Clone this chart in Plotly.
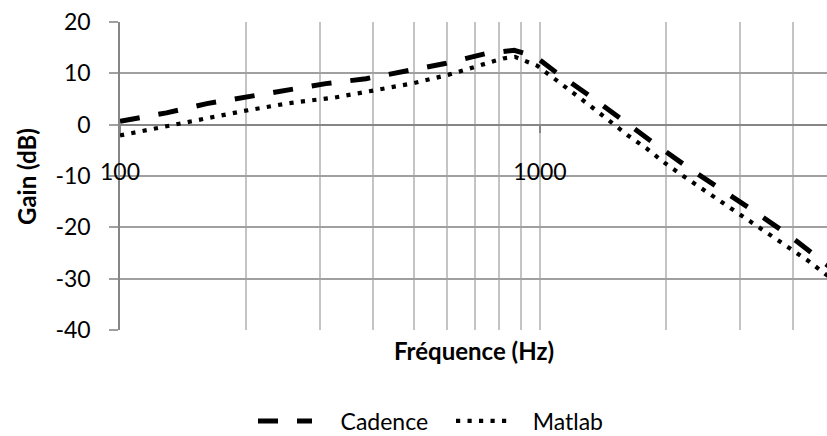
import math
import plotly.graph_objects as go

# Frequency response: measured (Cadence) vs. computed (Matlab)
freq_cadence = [100, 129, 161, 200, 250, 309, 385, 480, 594, 740, 800, 868, 974,
                1104, 1322, 1585, 1888, 2276, 2728, 3268, 3938, 4642, 5000]
gain_cadence = [0.65, 2.3, 4.1, 5.45, 6.8, 8.0, 8.95, 10.4, 11.9, 13.8, 14.2, 14.5, 13.3,
                9.9, 5.45, 0.6, -3.9, -8.6, -12.8, -17.1, -21.7, -26.3, -28.3]

freq_matlab = [100, 128, 164, 197, 253, 325, 392, 501, 604, 681, 769, 817, 872, 926,
               984, 1033, 1086, 1199, 1330, 1468, 1620, 1798, 1985, 2202, 2443,
               3178, 3530, 3917, 4347, 4797, 5000]
gain_matlab = [-2.1, -0.33, 1.4, 2.66, 4.2, 5.3, 6.5, 8.1, 9.7, 11.0, 12.3, 12.9, 13.2, 12.4,
               11.5, 10.2, 8.8, 6.2, 3.4, 0.6, -2.1, -4.7, -7.5, -10.1, -12.6,
               -18.8, -21.3, -23.9, -26.5, -29.2, -30.1]

grid_freqs = [100, 200, 300, 400, 500, 600, 700, 800, 900,
              1000, 2000, 3000, 4000, 5000]
label_freqs = [100, 1000]
label_text = ["100", "1000"]
y_ticks = [20, 10, 0, -10, -20, -30, -40]
y_tick_text = ["20", "10", "0", "-10", "-20", "-30", "-40"]

FONT = "Lato"
TICK_SIZE = 23
TITLE_SIZE = 24
AXIS_GRAY = "#868686"
HGRID = "#a0a0a0"
VGRID = "#c4c4c4"
NBSP = "\u00a0"

x_range = [2, math.log10(4823)]
y_range = [-40, 20]

fig = go.Figure()
fig.add_trace(go.Scatter(
    x=freq_cadence, y=gain_cadence, name=NBSP * 4 + "Cadence", mode="lines",
    line=dict(color="black", width=5, dash="20px,19px"),
))
fig.add_trace(go.Scatter(
    x=freq_matlab, y=gain_matlab, name=NBSP * 3 + "Matlab", mode="lines",
    line=dict(color="black", width=4.2, dash="4.2px,7.3px"),
))
# carrier for the labelled axis drawn through y = 0
fig.add_trace(go.Scatter(x=[], y=[], xaxis="x2", showlegend=False, hoverinfo="skip"))

zero_pos = (0 - y_range[0]) / (y_range[1] - y_range[0])

fig.update_layout(
    width=827, height=436,
    margin=dict(l=120, r=0, t=22, b=106, autoexpand=False),
    paper_bgcolor="white", plot_bgcolor="white",
    font=dict(family=FONT, size=TICK_SIZE, color="black"),
    showlegend=True,
    legend=dict(orientation="h", xref="container", yref="container",
                x=253 / 827, xanchor="left", y=15 / 436, yanchor="middle",
                font=dict(family=FONT, size=TICK_SIZE, color="black"), itemwidth=54,
                entrywidth=129, entrywidthmode="pixels",
                bgcolor="rgba(0,0,0,0)"),
    xaxis=dict(
        type="log", range=x_range, tickvals=grid_freqs, showticklabels=False,
        ticks="", showgrid=True, gridcolor=VGRID, gridwidth=1.5,
        showline=False, zeroline=False, fixedrange=True,
    ),
    xaxis2=dict(
        type="log", range=x_range, overlaying="x", anchor="free", position=zero_pos,
        side="bottom", tickvals=label_freqs, ticktext=label_text,
        ticks="outside", ticklen=7, tickcolor=AXIS_GRAY, tickwidth=1.5,
        ticklabelstandoff=20, showgrid=False, showline=False, zeroline=False,
        tickfont=dict(family=FONT, size=TICK_SIZE, color="black"),
    ),
    yaxis=dict(
        range=y_range, tickvals=y_ticks, ticktext=y_tick_text, ticks="outside", ticklen=9,
        tickcolor=HGRID, tickwidth=1.5, showgrid=True, gridcolor=HGRID, gridwidth=1.5,
        showline=True, linecolor=AXIS_GRAY, linewidth=1.5,
        zeroline=True, zerolinecolor=AXIS_GRAY, zerolinewidth=1.5,
        ticklabelstandoff=14,
        tickfont=dict(family=FONT, size=TICK_SIZE, color="black"),
    ),
    annotations=[
        dict(text="<b>Fréquence (Hz)</b>", xref="paper", yref="paper",
             x=0.5, y=-0.065, xanchor="center", yanchor="middle", showarrow=False,
             font=dict(family=FONT, size=TITLE_SIZE, color="black")),
        dict(text="<b>Gain (dB)</b>", xref="paper", yref="paper",
             x=-0.133, y=0.5, xanchor="center", yanchor="middle", showarrow=False,
             textangle=-90, font=dict(family=FONT, size=TITLE_SIZE, color="black")),
    ],
)

fig.write_html("out.html")
